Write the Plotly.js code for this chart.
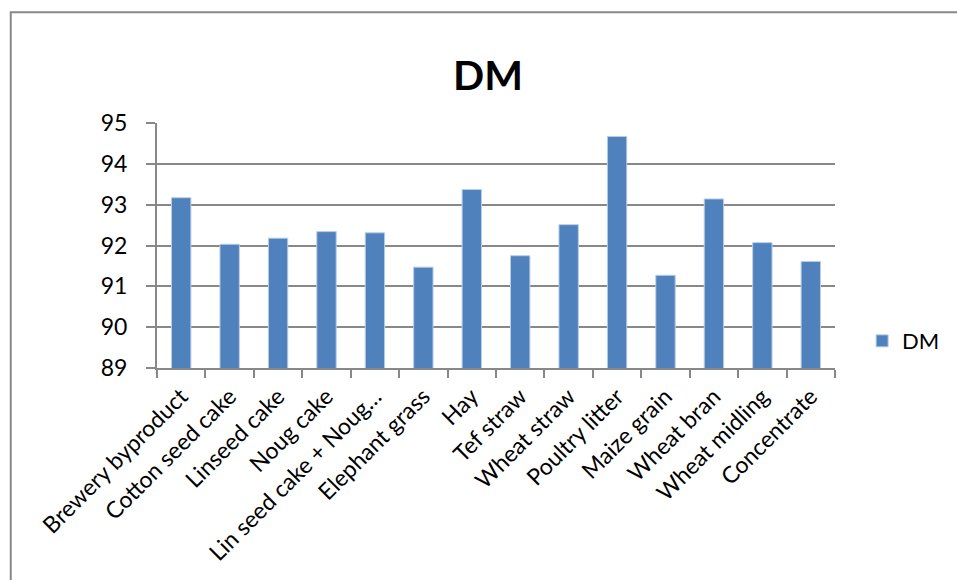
<!DOCTYPE html>
<html>
<head>
<meta charset="utf-8">
<script src="https://cdn.plot.ly/plotly-3.0.1.min.js"></script>
<style>
html,body{margin:0;padding:0;background:#fff;}
#chart{width:957px;height:580px;}
</style>
</head>
<body>
<div id="chart"></div>
<script>
const categories = ["Brewery byproduct","Cotton seed cake","Linseed cake","Noug cake","Lin seed cake + Noug…","Elephant grass","Hay","Tef straw","Wheat straw","Poultry litter","Maize grain","Wheat bran","Wheat midling","Concentrate"];
const dmValues = [93.17, 92.03, 92.18, 92.34, 92.31, 91.47, 93.37, 91.75, 92.51, 94.67, 91.27, 93.14, 92.07, 91.61];
const yTicks = [89, 90, 91, 92, 93, 94, 95];

const fontFam = "Lato, 'Open Sans', sans-serif";

const trace = {
  type: "bar",
  x: categories,
  y: dmValues,
  name: "DM",
  marker: {color: "#4F81BD", line: {color: "#B9CDE5", width: 1}},
  hoverinfo: "x+y"
};

const layout = {
  width: 957,
  height: 580,
  margin: {l: 157, r: 117, t: 123, b: 212},
  paper_bgcolor: "#fff",
  plot_bgcolor: "#fff",
  bargap: 0.6,
  font: {family: fontFam, color: "#000", size: 22},
  title: {
    text: "<b>DM</b>",
    font: {family: fontFam, size: 41, color: "#000"},
    x: 0.51, xanchor: "center",
    y: 0.87, yanchor: "middle"
  },
  xaxis: {
    type: "category",
    tickangle: -45,
    ticks: "outside",
    tickson: "boundaries",
    ticklen: 8,
    tickcolor: "#888",
    tickwidth: 2,
    showline: true,
    linecolor: "#888",
    linewidth: 2,
    showgrid: false,
    ticklabelstandoff: 4,
    tickfont: {family: fontFam, size: 23, color: "#000"},
    automargin: false
  },
  yaxis: {
    range: [89, 95],
    tickvals: yTicks,
    ticktext: yTicks.map(String),
    ticks: "outside",
    ticklen: 9,
    tickcolor: "#888",
    tickwidth: 2,
    showline: true,
    linecolor: "#888",
    linewidth: 2,
    showgrid: true,
    gridcolor: "#888",
    gridwidth: 2,
    zeroline: false,
    ticklabelstandoff: 14,
    tickfont: {family: fontFam, size: 23, color: "#000"},
    automargin: false
  },
  showlegend: true,
  legend: {
    x: 1.04, xanchor: "left",
    y: 0.11, yanchor: "middle",
    font: {family: fontFam, size: 22, color: "#000"},
    bgcolor: "rgba(0,0,0,0)",
    itemwidth: 30
  },
  shapes: [{
    type: "path",
    xref: "paper", yref: "paper",
    path: "M -0.2157,-0.87 L -0.2157,1.4524 L 1.2,1.4524",
    line: {color: "#888", width: 2}
  }]
};

Plotly.newPlot("chart", [trace], layout, {displayModeBar: false, staticPlot: true});
</script>
</body>
</html>
